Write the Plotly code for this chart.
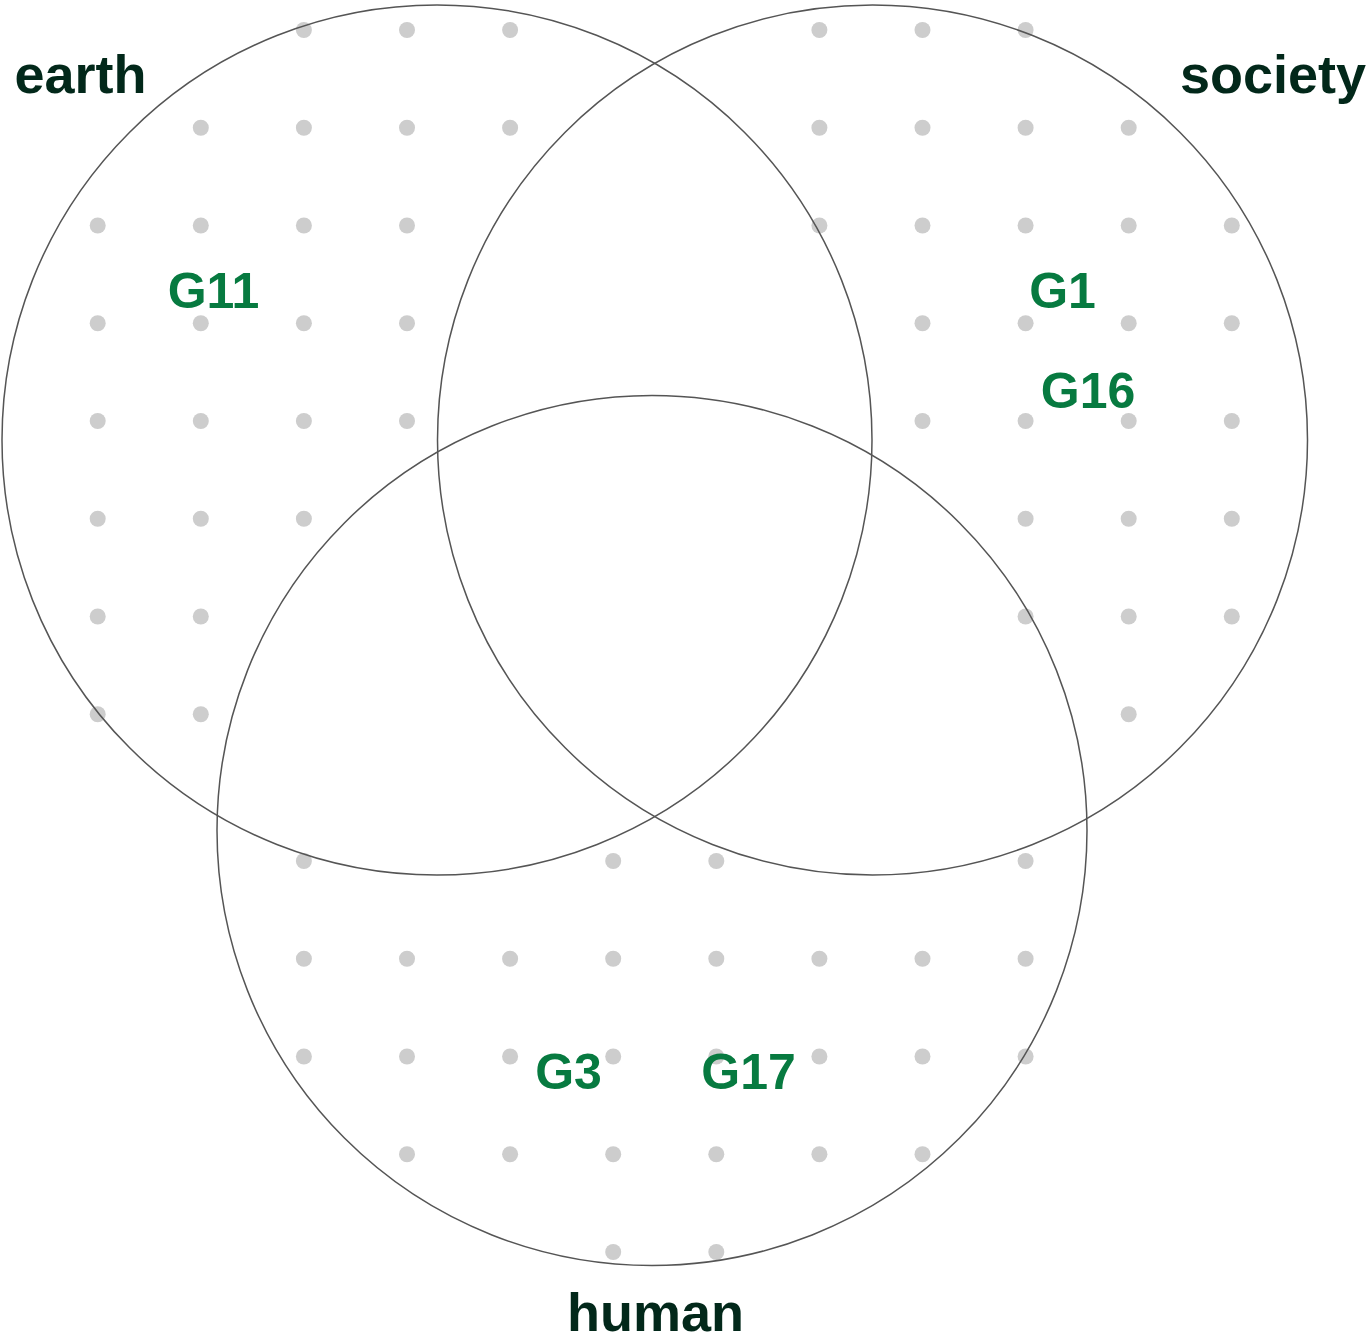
import math
import plotly.graph_objects as go

# ---- data ----
set_names = ["earth", "society", "human"]
region_members_earth = ["G11"]
region_members_society = ["G1", "G16"]
region_members_human = ["G3", "G17"]

# ---- layout (pixel space of the 1370x1338 canvas) ----
W, H = 1370, 1338
R = 435.0
centers = {"earth": (437.0, 440.0), "society": (872.5, 440.0), "human": (652.0, 830.5)}
set_label_pos = {"earth": (80.5, 79.5), "society": (1273, 79.5), "human": (655.5, 1317)}
member_pos = {
    "G11": (213.5, 295), "G1": (1062.5, 295), "G16": (1088, 395),
    "G3": (568.5, 1076), "G17": (748.5, 1076),
}

DARK = "#02281a"
GREEN = "#077a40"
DOT = "#cdcdcd"
LINE = "#555555"

fig = go.Figure()

# ---- dotted fill pattern for the exclusive regions ----
def dist(p, c):
    return math.hypot(p[0] - c[0], p[1] - c[1])

def exclusive_pattern(name, y0):
    xs, ys = [], []
    others = [n for n in set_names if n != name]
    for i in range(13):
        x = 97.7 + 103.1 * i
        for j in range(-2, 16):
            y = y0 + 97.75 * j
            if not (0 <= y <= H):
                continue
            if dist((x, y), centers[name]) > R + 3:
                continue
            if any(dist((x, y), centers[o]) < R - 7 for o in others):
                continue
            xs.append(x)
            ys.append(y)
    return xs, ys

for name, y0 in [("earth", 30.0), ("society", 30.0), ("human", 861.0)]:
    xs, ys = exclusive_pattern(name, y0)
    fig.add_trace(go.Scatter(x=xs, y=ys, mode="markers",
                             marker=dict(size=16, color=DOT, line=dict(width=0)),
                             hoverinfo="skip", showlegend=False))

# ---- circles ----
for name in set_names:
    cx, cy = centers[name]
    fig.add_shape(type="circle", xref="x", yref="y",
                  x0=cx - R, x1=cx + R, y0=cy - R, y1=cy + R,
                  line=dict(color=LINE, width=1.5), fillcolor="rgba(0,0,0,0)",
                  layer="above")

# ---- member labels ----
members = region_members_earth + region_members_society + region_members_human
fig.add_trace(go.Scatter(
    x=[member_pos[m][0] for m in members], y=[member_pos[m][1] for m in members],
    text=members, mode="text", textposition="middle center", cliponaxis=False,
    textfont=dict(family="Liberation Sans, Arial, sans-serif", size=50, color=GREEN,
                  weight="bold"),
    hoverinfo="skip", showlegend=False))

# ---- set labels ----
fig.add_trace(go.Scatter(
    x=[set_label_pos[s][0] for s in set_names], y=[set_label_pos[s][1] for s in set_names],
    text=set_names, mode="text", textposition="middle center", cliponaxis=False,
    textfont=dict(family="Liberation Sans, Arial, sans-serif", size=54, color=DARK,
                  weight="bold"),
    hoverinfo="skip", showlegend=False))

fig.update_layout(
    width=W, height=H, margin=dict(l=0, r=0, t=0, b=0),
    paper_bgcolor="white", plot_bgcolor="white",
    xaxis=dict(range=[0, W], visible=False, fixedrange=True),
    yaxis=dict(range=[H, 0], visible=False, fixedrange=True),
    showlegend=False,
)

fig.write_html(
    "out.html",
    config={"displayModeBar": False},
    post_script="document.body.style.margin='0';document.body.style.overflow='hidden';",
)
